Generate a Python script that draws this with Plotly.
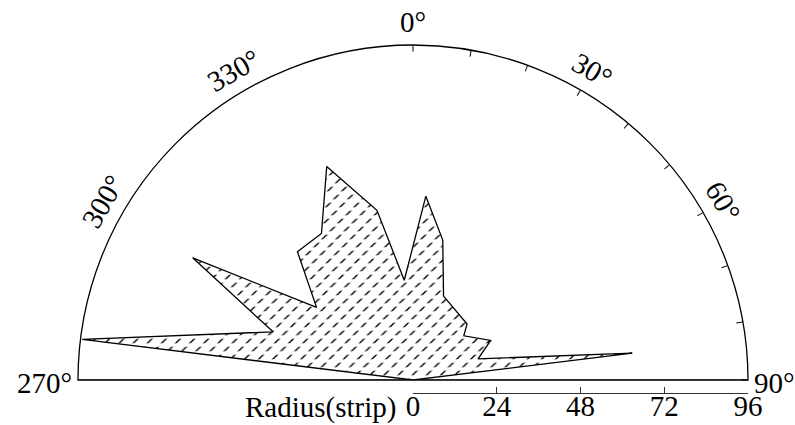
import math
import numpy as np
import plotly.graph_objects as go

# Strike-direction rose (upper half circle), radius = number of strips
THETA = [277, 289, 299, 307, 318, 328, 338, 348, 355, 4, 12, 20, 44, 49, 63, 72, 83]
RADIUS = [95.5, 42.4, 72.2, 34.6, 49.5, 49.5, 66.0, 49.7, 28.7, 52.8, 41.0, 25.6, 22.3, 19.3, 25.0, 19.6, 63.3]

RMAX = 96
RADIAL_TICKS = [0, 24, 48, 72, 96]
ANGLE_TICKS = list(range(0, 91, 10)) + list(range(270, 360, 10))
ANGLE_LABELS = [0, 30, 60, 90, 270, 300, 330]

W, H = 795, 425
CX, CY, R = 413, 380, 335          # pixel centre / radius of the half disc
FONT = "Liberation Serif"
FS = 29

fig = go.Figure()

# rose polygon, closed through the origin; compass angle -> x (east), y (north)
r_closed = np.array([0] + RADIUS + [0], dtype=float)
t_deg = [270] + THETA + [90]
t_closed = np.radians(t_deg)
px_x = r_closed * np.sin(t_closed)
px_y = r_closed * np.cos(t_closed)

# diagonal hatch
fig.add_trace(go.Scatter(
    x=px_x, y=px_y, mode="lines", fill="toself", fillcolor="white",
    fillpattern=dict(shape="/", fgcolor="black", bgcolor="white", size=10,
                     solidity=0.14, fgopacity=1),
    line=dict(width=0, color="rgba(0,0,0,0)"), hoverinfo="skip",
))
# white horizontal bands break the hatch lines into dashes
fig.add_trace(go.Scatter(
    x=px_x, y=px_y, mode="lines", fill="toself", fillcolor="rgba(0,0,0,0)",
    fillpattern=dict(shape="-", fgcolor="white", bgcolor="rgba(0,0,0,0)", size=8,
                     solidity=0.42, fgopacity=1),
    line=dict(width=0, color="rgba(0,0,0,0)"), hoverinfo="skip",
))

# rose outline
fig.add_trace(go.Scatterpolar(
    r=list(r_closed), theta=t_deg, mode="lines",
    line=dict(color="black", width=1.3), hoverinfo="skip",
))

# diameter closing the half circle
fig.add_trace(go.Scatterpolar(
    r=[RMAX, 0, RMAX], theta=[270, 0, 90], mode="lines",
    line=dict(color="#333333", width=1.2), hoverinfo="skip",
))

# radial scale drawn below the diameter
fig.add_trace(go.Scatter(
    x=RADIAL_TICKS, y=[0] * len(RADIAL_TICKS), xaxis="x2", yaxis="y2",
    mode="markers", marker=dict(opacity=0), hoverinfo="skip",
))

dom_x = [(CX - R) / W, (CX + R) / W]
dom_y = [(H - CY) / H, (H - CY + R) / H]
scale_y = (H - 393) / H
fig.update_layout(
    width=W, height=H,
    autosize=False,
    margin=dict(l=0, r=0, t=0, b=0, pad=0, autoexpand=False),
    paper_bgcolor="white",
    plot_bgcolor="rgba(0,0,0,0)",
    showlegend=False,
    font=dict(family=FONT, size=FS, color="black"),
    xaxis=dict(domain=dom_x, range=[-RMAX, RMAX], visible=False, fixedrange=True,
               automargin=False),
    yaxis=dict(domain=dom_y, range=[0, RMAX], visible=False, fixedrange=True,
               automargin=False),
    polar=dict(
        domain=dict(x=dom_x, y=dom_y),
        sector=[0, 180],
        bgcolor="rgba(0,0,0,0)",
        radialaxis=dict(range=[0, RMAX], visible=False),
        angularaxis=dict(
            rotation=90, direction="clockwise",
            tickmode="array", tickvals=ANGLE_TICKS,
            ticks="inside", ticklen=6, tickwidth=1, tickcolor="black",
            showticklabels=False, showgrid=False,
            showline=True, linecolor="black", linewidth=1.3,
        ),
    ),
    xaxis2=dict(
        domain=[CX / W, (CX + R) / W], range=[0, RMAX], anchor="y2",
        tickmode="array", tickvals=RADIAL_TICKS,
        ticks="inside", ticklen=6, tickwidth=1, tickcolor="#333333",
        showline=True, linecolor="#333333", linewidth=1.2,
        showgrid=False, zeroline=False, automargin=False,
        ticklabelstandoff=-13,
        tickfont=dict(family=FONT, size=FS, color="black"),
    ),
    yaxis2=dict(domain=[scale_y, scale_y + 0.02], range=[0, 1], visible=False,
                automargin=False),
)

# angle labels set tangentially around the arc
annotations = []
for a in ANGLE_LABELS:
    rad = math.radians(a)
    if a in (90, 270):
        side = 1 if a == 90 else -1
        px = CX + side * (R + 4)
        annotations.append(dict(
            x=px / W, y=(H - CY - 3) / H, xref="paper", yref="paper",
            text=f"{a}°", showarrow=False,
            xanchor="left" if a == 90 else "right", yanchor="middle",
            font=dict(family=FONT, size=FS),
        ))
        continue
    rl = R + 23
    px = CX + rl * math.sin(rad)
    py = CY - rl * math.cos(rad)
    ang = a if a <= 90 else a - 360
    annotations.append(dict(
        x=px / W, y=(H - py) / H, xref="paper", yref="paper",
        text=f"{a}°", showarrow=False, textangle=ang,
        xanchor="center", yanchor="middle",
        font=dict(family=FONT, size=FS),
    ))

annotations.append(dict(
    x=398 / W, y=(H - 407) / H, xref="paper", yref="paper",
    text="Radius(strip)", showarrow=False, xanchor="right", yanchor="middle",
    font=dict(family=FONT, size=FS),
))
fig.update_layout(annotations=annotations)

fig.write_html("out.html")
